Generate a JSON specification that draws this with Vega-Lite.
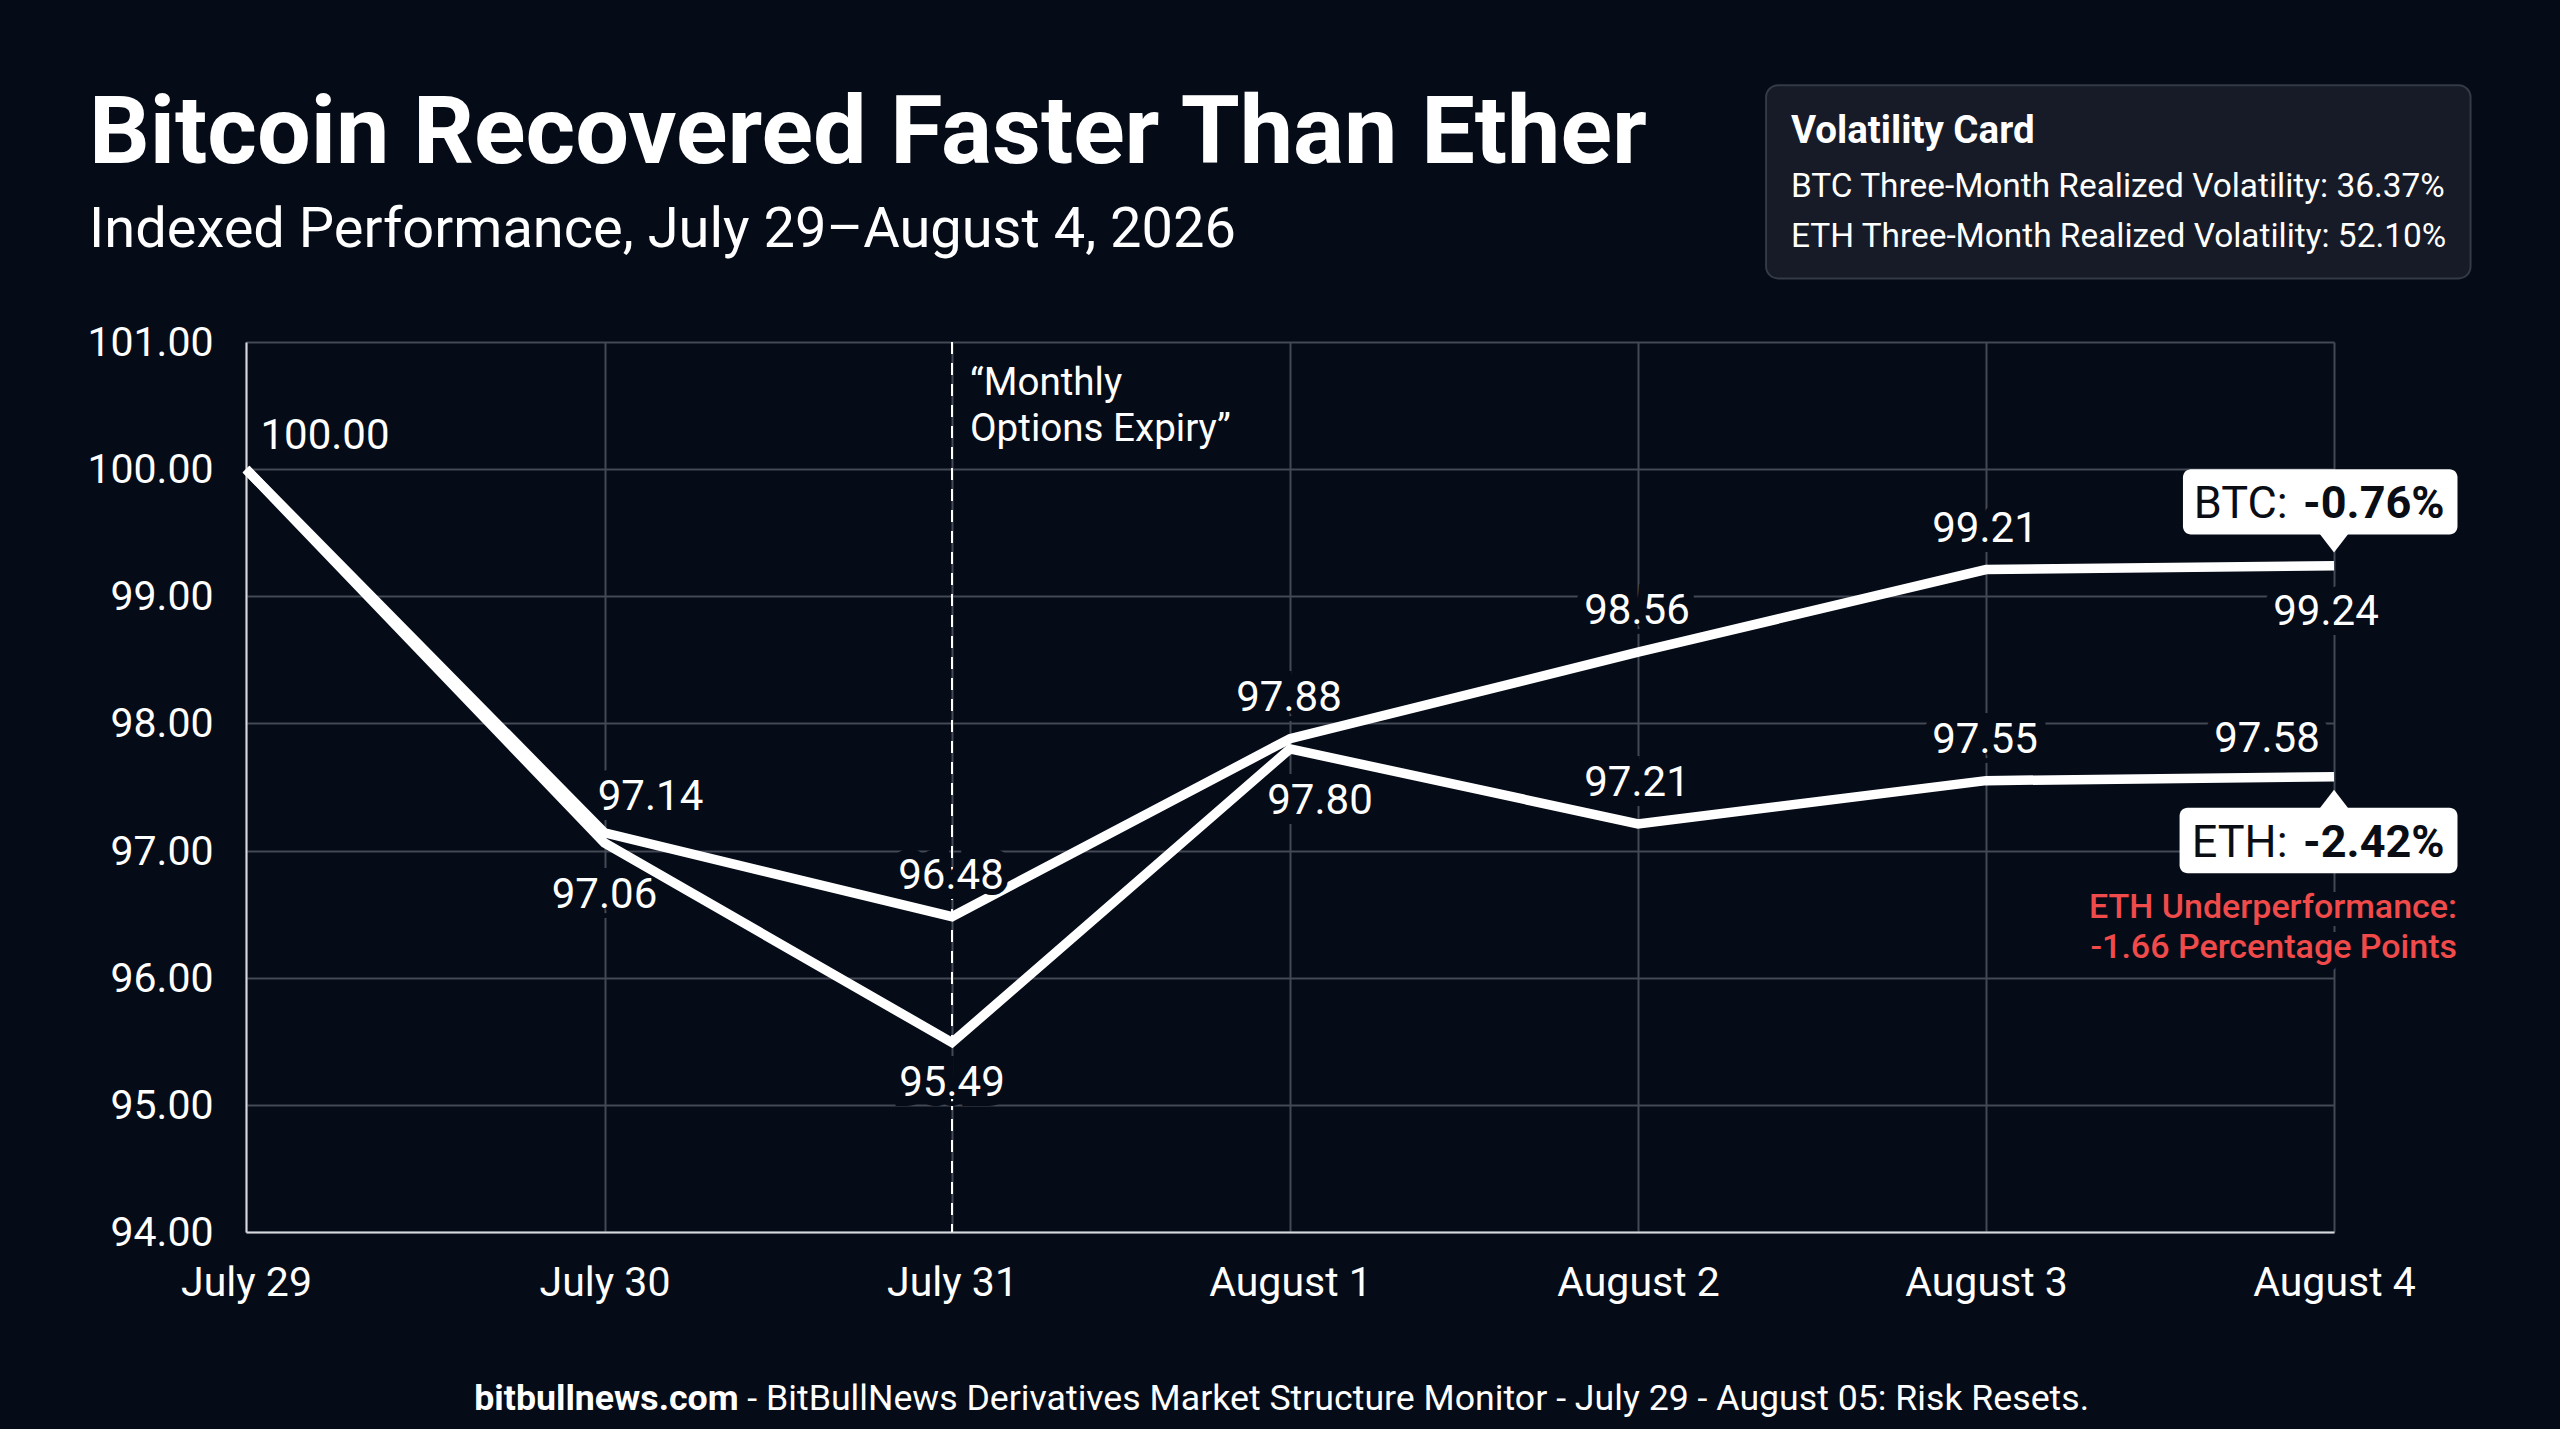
{
  "$schema": "https://vega.github.io/schema/vega-lite/v6.json",
  "description": "Indexed BTC and ETH performance with expiry marker and callouts.",
  "background": "#050b17",
  "autosize": {"type": "none"},
  "padding": {"left": 246, "top": 342, "right": 226, "bottom": 197},
  "width": 2088,
  "height": 890,
  "title": {
    "text": "Bitcoin Recovered Faster Than Ether",
    "subtitle": "Indexed Performance, July 29\u2013August 4, 2026",
    "anchor": "start",
    "frame": "group",
    "font": "Roboto",
    "fontSize": 95.3,
    "fontWeight": 700,
    "color": "#ffffff",
    "subtitleFont": "Roboto",
    "subtitleFontSize": 56,
    "subtitleFontWeight": 400,
    "subtitleColor": "#ffffff",
    "subtitlePadding": 20,
    "dx": -157,
    "offset": -175
  },
  "config": {
    "font": "Roboto",
    "view": {"stroke": null},
    "axis": {
      "labelFont": "Roboto",
      "labelFontSize": 41,
      "labelColor": "#ffffff",
      "gridColor": "#434955",
      "gridWidth": 2,
      "gridOpacity": 1,
      "domainColor": "#d8dadd",
      "domainWidth": 2,
      "ticks": false,
      "title": null
    }
  },
  "datasets": {
    "series": [
      {"date": "2026-07-29T00:00:00", "asset": "BTC", "value": 100.0},
      {"date": "2026-07-30T00:00:00", "asset": "BTC", "value": 97.14},
      {"date": "2026-07-31T00:00:00", "asset": "BTC", "value": 96.48},
      {"date": "2026-08-01T00:00:00", "asset": "BTC", "value": 97.88},
      {"date": "2026-08-02T00:00:00", "asset": "BTC", "value": 98.56},
      {"date": "2026-08-03T00:00:00", "asset": "BTC", "value": 99.21},
      {"date": "2026-08-04T00:00:00", "asset": "BTC", "value": 99.24},
      {"date": "2026-07-29T00:00:00", "asset": "ETH", "value": 100.0},
      {"date": "2026-07-30T00:00:00", "asset": "ETH", "value": 97.06},
      {"date": "2026-07-31T00:00:00", "asset": "ETH", "value": 95.49},
      {"date": "2026-08-01T00:00:00", "asset": "ETH", "value": 97.8},
      {"date": "2026-08-02T00:00:00", "asset": "ETH", "value": 97.21},
      {"date": "2026-08-03T00:00:00", "asset": "ETH", "value": 97.55},
      {"date": "2026-08-04T00:00:00", "asset": "ETH", "value": 97.58}
    ]
  },
  "layer": [
    {
      "data": {"values": [{}]},
      "mark": {"type": "rule", "stroke": "#ffffff", "strokeWidth": 2, "strokeDash": [12, 9]},
      "encoding": {"x": {"datum": {"year": 2026, "month": "jul", "date": 31}, "type": "temporal"}}
    },
    {
      "data": {"name": "series"},
      "encoding": {
        "x": {"field": "date", "type": "temporal"},
        "y": {"field": "value", "type": "quantitative"},
        "text": {"field": "value", "type": "quantitative", "format": ".2f"}
      },
      "layer": [
        {
          "transform": [{"filter": {"field": "value", "oneOf": [96.48, 97.88, 98.56, 99.21, 97.21, 97.55]}}],
          "mark": {"type": "text", "fontSize": 42, "dx": -1, "dy": -41, "stroke": "#050b17", "strokeWidth": 20}
        },
        {
          "transform": [{"filter": {"field": "value", "equal": 97.06}}],
          "mark": {"type": "text", "fontSize": 42, "dy": 52, "stroke": "#050b17", "strokeWidth": 20}
        },
        {
          "transform": [{"filter": {"field": "value", "equal": 95.49}}],
          "mark": {"type": "text", "fontSize": 42, "dy": 40, "stroke": "#050b17", "strokeWidth": 20}
        },
        {
          "transform": [{"filter": {"field": "value", "equal": 99.24}}],
          "mark": {"type": "text", "fontSize": 42, "dx": -8, "dy": 46, "stroke": "#050b17", "strokeWidth": 20}
        },
        {
          "transform": [{"filter": {"field": "value", "equal": 97.8}}],
          "mark": {"type": "text", "fontSize": 42, "dx": 30, "dy": 52, "stroke": "#050b17", "strokeWidth": 20}
        },
        {
          "transform": [{"filter": {"field": "value", "equal": 97.14}}],
          "mark": {"type": "text", "fontSize": 42, "dx": 46, "dy": -36, "stroke": "#050b17", "strokeWidth": 20}
        },
        {
          "transform": [{"filter": "datum.value == 100 && datum.asset == 'BTC'"}],
          "mark": {"type": "text", "fontSize": 42, "dx": 79, "dy": -33, "stroke": "#050b17", "strokeWidth": 20}
        },
        {
          "transform": [{"filter": {"field": "value", "equal": 97.58}}],
          "mark": {"type": "text", "fontSize": 42, "dx": -67, "dy": -38, "stroke": "#050b17", "strokeWidth": 20}
        }
      ]
    },
    {
      "data": {"name": "series"},
      "mark": {"type": "line", "stroke": "#ffffff", "strokeWidth": 9.5, "strokeCap": "butt", "strokeJoin": "miter"},
      "encoding": {
        "x": {
          "field": "date",
          "type": "temporal",
          "scale": {
            "domainRaw": {"expr": "[datetime(2026, 6, 29), datetime(2026, 6, 30), datetime(2026, 6, 31), datetime(2026, 7, 1), datetime(2026, 7, 4)]"},
            "range": [0, 358.5, 706, 1044, 2088],
            "nice": false
          },
          "axis": {
            "format": "%B %-d",
            "values": [
              {"year": 2026, "month": "jul", "date": 29},
              {"year": 2026, "month": "jul", "date": 30},
              {"year": 2026, "month": "jul", "date": 31},
              {"year": 2026, "month": "aug", "date": 1},
              {"year": 2026, "month": "aug", "date": 2},
              {"year": 2026, "month": "aug", "date": 3},
              {"year": 2026, "month": "aug", "date": 4}
            ],
            "grid": true,
            "labelPadding": 31,
            "labelFlush": false
          }
        },
        "y": {
          "field": "value",
          "type": "quantitative",
          "scale": {"domain": [94, 101], "nice": false, "zero": false},
          "axis": {"format": ".2f", "values": [94, 95, 96, 97, 98, 99, 100, 101], "grid": true, "labelPadding": 33, "labelOffset": 1.5}
        },
        "detail": {"field": "asset", "type": "nominal"}
      }
    },
    {
      "data": {"name": "series"},
      "encoding": {
        "x": {"field": "date", "type": "temporal"},
        "y": {"field": "value", "type": "quantitative"},
        "text": {"field": "value", "type": "quantitative", "format": ".2f"}
      },
      "layer": [
        {
          "transform": [{"filter": {"field": "value", "equal": 96.48}}],
          "mark": {"type": "text", "fontSize": 42, "dx": -1, "dy": -41, "stroke": "#050b17", "strokeWidth": 12}
        },
        {
          "transform": [{"filter": {"field": "value", "oneOf": [96.48, 97.88, 98.56, 99.21, 97.21, 97.55]}}],
          "mark": {"type": "text", "fontSize": 42, "dx": -1, "dy": -41, "fill": "#ffffff"}
        },
        {
          "transform": [{"filter": {"field": "value", "equal": 97.06}}],
          "mark": {"type": "text", "fontSize": 42, "dy": 52, "fill": "#ffffff"}
        },
        {
          "transform": [{"filter": {"field": "value", "equal": 95.49}}],
          "mark": {"type": "text", "fontSize": 42, "dy": 40, "fill": "#ffffff"}
        },
        {
          "transform": [{"filter": {"field": "value", "equal": 99.24}}],
          "mark": {"type": "text", "fontSize": 42, "dx": -8, "dy": 46, "fill": "#ffffff"}
        },
        {
          "transform": [{"filter": {"field": "value", "equal": 97.8}}],
          "mark": {"type": "text", "fontSize": 42, "dx": 30, "dy": 52, "fill": "#ffffff"}
        },
        {
          "transform": [{"filter": {"field": "value", "equal": 97.14}}],
          "mark": {"type": "text", "fontSize": 42, "dx": 46, "dy": -36, "fill": "#ffffff"}
        },
        {
          "transform": [{"filter": "datum.value == 100 && datum.asset == 'BTC'"}],
          "mark": {"type": "text", "fontSize": 42, "dx": 79, "dy": -33, "fill": "#ffffff"}
        },
        {
          "transform": [{"filter": {"field": "value", "equal": 97.58}}],
          "mark": {"type": "text", "fontSize": 42, "dx": -67, "dy": -38, "fill": "#ffffff"}
        }
      ]
    },
    {
      "data": {"values": [{}]},
      "mark": {"type": "text", "text": ["\u201cMonthly", "Options Expiry\u201d"], "fontSize": 38.6, "align": "left", "baseline": "middle", "lineHeight": 46, "fill": "#ffffff"},
      "encoding": {
        "x": {"datum": {"year": 2026, "month": "jul", "date": 31, "hours": 1, "minutes": 17}, "type": "temporal"},
        "y": {"datum": 100.678}
      }
    },
    {
      "data": {"values": [{}]},
      "mark": {"type": "rect", "fill": "#161b27", "stroke": "#343a47", "strokeWidth": 2, "cornerRadius": 12},
      "encoding": {
        "x": {"datum": {"year": 2026, "month": "aug", "date": 2, "hours": 8, "minutes": 50}, "type": "temporal"},
        "x2": {"datum": {"year": 2026, "month": "aug", "date": 4, "hours": 9, "minutes": 25}},
        "y": {"datum": 103.02},
        "y2": {"datum": 101.5}
      }
    },
    {
      "data": {"values": [{}]},
      "mark": {"type": "text", "text": "Volatility Card", "fontSize": 38.5, "fontWeight": 700, "align": "left", "baseline": "middle", "fill": "#ffffff"},
      "encoding": {
        "x": {"datum": {"year": 2026, "month": "aug", "date": 2, "hours": 10, "minutes": 33}, "type": "temporal"},
        "y": {"datum": 102.658}
      }
    },
    {
      "data": {"values": [{}]},
      "mark": {"type": "text", "text": "BTC Three-Month Realized Volatility: 36.37%", "fontSize": 33.4, "align": "left", "baseline": "middle", "fill": "#ffffff"},
      "encoding": {
        "x": {"datum": {"year": 2026, "month": "aug", "date": 2, "hours": 10, "minutes": 33}, "type": "temporal"},
        "y": {"datum": 102.218}
      }
    },
    {
      "data": {"values": [{}]},
      "mark": {"type": "text", "text": "ETH Three-Month Realized Volatility: 52.10%", "fontSize": 33.4, "align": "left", "baseline": "middle", "fill": "#ffffff"},
      "encoding": {
        "x": {"datum": {"year": 2026, "month": "aug", "date": 2, "hours": 10, "minutes": 33}, "type": "temporal"},
        "y": {"datum": 101.828}
      }
    },
    {
      "data": {"values": [{}]},
      "mark": {"type": "rect", "fill": "#ffffff", "cornerRadius": 8},
      "encoding": {
        "x": {"datum": {"year": 2026, "month": "aug", "date": 3, "hours": 13, "minutes": 35}, "type": "temporal"},
        "x2": {"datum": {"year": 2026, "month": "aug", "date": 4, "hours": 8, "minutes": 31}},
        "y": {"datum": 99.999},
        "y2": {"datum": 99.485}
      }
    },
    {
      "data": {"values": [{}]},
      "mark": {"type": "point", "shape": "M-1 -0.1L1 -0.1L0 1.2Z", "size": 900, "filled": true, "fill": "#ffffff", "opacity": 1},
      "encoding": {
        "x": {"datum": {"year": 2026, "month": "aug", "date": 4}, "type": "temporal"},
        "y": {"datum": 99.485}
      }
    },
    {
      "data": {"values": [{}]},
      "mark": {"type": "text", "text": "BTC:", "fontSize": 45, "align": "left", "baseline": "middle", "fill": "#0a0d14"},
      "encoding": {
        "x": {"datum": {"year": 2026, "month": "aug", "date": 3, "hours": 14, "minutes": 20}, "type": "temporal"},
        "y": {"datum": 99.722}
      }
    },
    {
      "data": {"values": [{}]},
      "mark": {"type": "text", "text": "-0.76%", "fontSize": 45, "fontWeight": 700, "align": "left", "baseline": "middle", "fill": "#0a0d14"},
      "encoding": {
        "x": {"datum": {"year": 2026, "month": "aug", "date": 3, "hours": 21, "minutes": 52}, "type": "temporal"},
        "y": {"datum": 99.722}
      }
    },
    {
      "data": {"values": [{}]},
      "mark": {"type": "rect", "fill": "#ffffff", "cornerRadius": 8},
      "encoding": {
        "x": {"datum": {"year": 2026, "month": "aug", "date": 3, "hours": 13, "minutes": 21}, "type": "temporal"},
        "x2": {"datum": {"year": 2026, "month": "aug", "date": 4, "hours": 8, "minutes": 31}},
        "y": {"datum": 97.336},
        "y2": {"datum": 96.822}
      }
    },
    {
      "data": {"values": [{}]},
      "mark": {"type": "point", "shape": "M-1 0.1L1 0.1L0 -1.2Z", "size": 900, "filled": true, "fill": "#ffffff", "opacity": 1},
      "encoding": {
        "x": {"datum": {"year": 2026, "month": "aug", "date": 4}, "type": "temporal"},
        "y": {"datum": 97.336}
      }
    },
    {
      "data": {"values": [{}]},
      "mark": {"type": "text", "text": "ETH:", "fontSize": 45, "align": "left", "baseline": "middle", "fill": "#0a0d14"},
      "encoding": {
        "x": {"datum": {"year": 2026, "month": "aug", "date": 3, "hours": 14, "minutes": 11}, "type": "temporal"},
        "y": {"datum": 97.059}
      }
    },
    {
      "data": {"values": [{}]},
      "mark": {"type": "text", "text": "-2.42%", "fontSize": 45, "fontWeight": 700, "align": "left", "baseline": "middle", "fill": "#0a0d14"},
      "encoding": {
        "x": {"datum": {"year": 2026, "month": "aug", "date": 3, "hours": 21, "minutes": 52}, "type": "temporal"},
        "y": {"datum": 97.059}
      }
    },
    {
      "data": {"values": [{}]},
      "mark": {"type": "text", "text": "ETH Underperformance:", "fontSize": 34, "fontWeight": 500, "align": "right", "baseline": "middle", "stroke": "#050b17", "strokeWidth": 16},
      "encoding": {
        "x": {"datum": {"year": 2026, "month": "aug", "date": 4, "hours": 8, "minutes": 29}, "type": "temporal"},
        "y": {"datum": 96.552}
      }
    },
    {
      "data": {"values": [{}]},
      "mark": {"type": "text", "text": "-1.66 Percentage Points", "fontSize": 34, "fontWeight": 500, "align": "right", "baseline": "middle", "stroke": "#050b17", "strokeWidth": 16},
      "encoding": {
        "x": {"datum": {"year": 2026, "month": "aug", "date": 4, "hours": 8, "minutes": 29}, "type": "temporal"},
        "y": {"datum": 96.23}
      }
    },
    {
      "data": {"values": [{}]},
      "mark": {"type": "text", "text": "ETH Underperformance:", "fontSize": 34, "fontWeight": 500, "align": "right", "baseline": "middle", "fill": "#f04a4a"},
      "encoding": {
        "x": {"datum": {"year": 2026, "month": "aug", "date": 4, "hours": 8, "minutes": 29}, "type": "temporal"},
        "y": {"datum": 96.552}
      }
    },
    {
      "data": {"values": [{}]},
      "mark": {"type": "text", "text": "-1.66 Percentage Points", "fontSize": 34, "fontWeight": 500, "align": "right", "baseline": "middle", "fill": "#f04a4a"},
      "encoding": {
        "x": {"datum": {"year": 2026, "month": "aug", "date": 4, "hours": 8, "minutes": 29}, "type": "temporal"},
        "y": {"datum": 96.23}
      }
    },
    {
      "data": {"values": [{}]},
      "mark": {"type": "text", "text": "bitbullnews.com", "fontSize": 35.7, "fontWeight": 700, "align": "right", "baseline": "middle", "fill": "#ffffff"},
      "encoding": {
        "x": {"datum": {"year": 2026, "month": "jul", "date": 30, "hours": 9, "minutes": 16}, "type": "temporal"},
        "y": {"datum": 92.69}
      }
    },
    {
      "data": {"values": [{}]},
      "mark": {"type": "text", "text": "- BitBullNews Derivatives Market Structure Monitor - July 29 - August 05: Risk Resets.", "fontSize": 35.7, "align": "left", "baseline": "middle", "fill": "#ffffff"},
      "encoding": {
        "x": {"datum": {"year": 2026, "month": "jul", "date": 30, "hours": 9, "minutes": 52}, "type": "temporal"},
        "y": {"datum": 92.69}
      }
    }
  ]
}
